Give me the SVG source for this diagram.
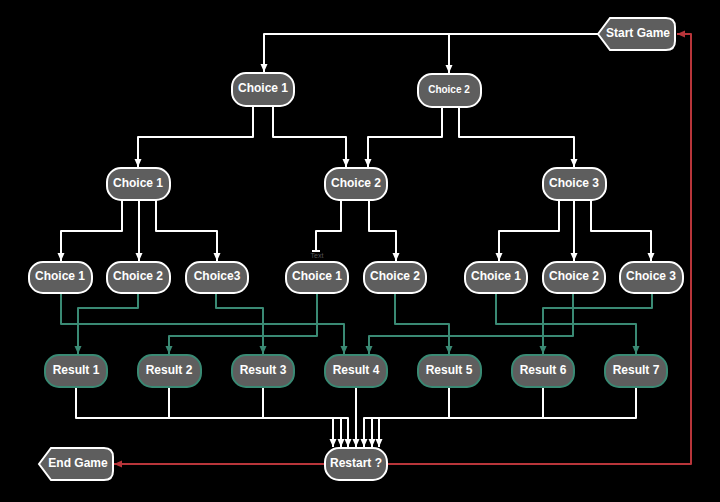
<svg xmlns="http://www.w3.org/2000/svg" width="720" height="502" viewBox="0 0 720 502">
<style>
.n{fill:#5e5e5e;stroke:#fff;stroke-width:2}
.r{fill:#5e5e5e;stroke:#3a8a74;stroke-width:2}
.t{fill:#fff;font-family:"Liberation Sans",Arial,sans-serif;font-weight:bold;font-size:12px;text-anchor:middle}
.w{fill:none;stroke:#fff;stroke-width:2;stroke-linejoin:round}
.g{fill:none;stroke:#3a8a74;stroke-width:2;stroke-linejoin:round}
.rd{fill:none;stroke:#b8353a;stroke-width:2;stroke-linejoin:round}
</style>
<defs>
<marker id="aw" markerUnits="userSpaceOnUse" markerWidth="10" markerHeight="10" refX="8" refY="5" orient="auto"><path d="M0,1.5 L8,5 L0,8.5 Z" fill="#fff"/></marker>
<marker id="ag" markerUnits="userSpaceOnUse" markerWidth="10" markerHeight="10" refX="8" refY="5" orient="auto"><path d="M0,1.5 L8,5 L0,8.5 Z" fill="#3a8a74"/></marker>
<marker id="ar" markerUnits="userSpaceOnUse" markerWidth="10" markerHeight="10" refX="8" refY="5" orient="auto"><path d="M0,1.5 L8,5 L0,8.5 Z" fill="#b8353a"/></marker>
</defs>
<rect width="720" height="502" fill="#000"/>
<g id="connectors">
<polyline class="w" points="598,34 264,34 264,72" marker-end="url(#aw)"/>
<polyline class="w" points="449,34 449,73" marker-end="url(#aw)"/>
<polyline class="w" points="253,106 253,137 138,137 138,167" marker-end="url(#aw)"/>
<polyline class="w" points="273,106 273,137 346,137 346,167" marker-end="url(#aw)"/>
<polyline class="w" points="442,107 442,137 368,137 368,167" marker-end="url(#aw)"/>
<polyline class="w" points="459,107 459,137 574,137 574,167" marker-end="url(#aw)"/>
<polyline class="w" points="122,200 122,231 61,231 61,261" marker-end="url(#aw)"/>
<polyline class="w" points="139,200 139,261" marker-end="url(#aw)"/>
<polyline class="w" points="156,200 156,231 217,231 217,261" marker-end="url(#aw)"/>
<polyline class="w" points="341,200 341,231 316,231 316,251"/>
<line x1="312" y1="251" x2="320" y2="251" stroke="#fff" stroke-width="2"/>
<text x="317" y="258" font-family="Liberation Sans,Arial,sans-serif" font-size="7" fill="#555" text-anchor="middle">Text</text>
<polyline class="w" points="369,200 369,231 396,231 396,261" marker-end="url(#aw)"/>
<polyline class="w" points="559,200 559,231 499,231 499,261" marker-end="url(#aw)"/>
<polyline class="w" points="574,200 574,261" marker-end="url(#aw)"/>
<polyline class="w" points="591,200 591,231 651,231 651,261" marker-end="url(#aw)"/>
<polyline class="g" points="61,293 61,324 344,324 344,354" marker-end="url(#ag)"/>
<polyline class="g" points="138,293 138,308 78,308 78,354" marker-end="url(#ag)"/>
<polyline class="g" points="216,293 216,308 263,308 263,354" marker-end="url(#ag)"/>
<polyline class="g" points="317,293 317,336 169,336 169,354" marker-end="url(#ag)"/>
<polyline class="g" points="395,293 395,324 449,324 449,354" marker-end="url(#ag)"/>
<polyline class="g" points="496,293 496,324 636,324 636,354" marker-end="url(#ag)"/>
<polyline class="g" points="573,293 573,336 369,336 369,354" marker-end="url(#ag)"/>
<polyline class="g" points="652,293 652,308 543,308 543,354" marker-end="url(#ag)"/>
<polyline class="w" points="76,387 76,418 333,418 333,447" marker-end="url(#aw)"/>
<polyline class="w" points="169,387 169,418 341,418 341,447" marker-end="url(#aw)"/>
<polyline class="w" points="263,387 263,418 348,418 348,447" marker-end="url(#aw)"/>
<polyline class="w" points="356,387 356,447" marker-end="url(#aw)"/>
<polyline class="w" points="449,387 449,418 364,418 364,447" marker-end="url(#aw)"/>
<polyline class="w" points="543,387 543,418 372,418 372,447" marker-end="url(#aw)"/>
<polyline class="w" points="636,387 636,418 379,418 379,447" marker-end="url(#aw)"/>
<polyline class="rd" points="387,464 691,464 691,34 677,34" marker-end="url(#ar)"/>
<polyline class="rd" points="325,464 114,464" marker-end="url(#ar)"/>
</g>
<g id="start"><path class="n" d="M598,34 L610,18 H666 Q675,18 675,27 V41 Q675,50 666,50 H610 Z"/><text class="t" x="638" y="37">Start Game</text></g>
<g id="c1"><rect class="n" x="232" y="73" width="62" height="33" rx="14"/><text class="t" x="263" y="92">Choice 1</text></g>
<g id="c2"><rect class="n" x="418" y="74" width="63" height="33" rx="14"/><text class="t" x="449" y="93" style="font-size:10px">Choice 2</text></g>
<g id="c11"><rect class="n" x="107" y="168" width="63" height="32" rx="14"/><text class="t" x="138" y="187">Choice 1</text></g>
<g id="c12"><rect class="n" x="325" y="168" width="62" height="32" rx="14"/><text class="t" x="356" y="187">Choice 2</text></g>
<g id="c13"><rect class="n" x="543" y="168" width="63" height="32" rx="14"/><text class="t" x="574" y="187">Choice 3</text></g>
<g id="c111"><rect class="n" x="29" y="262" width="63" height="31" rx="14"/><text class="t" x="60" y="280">Choice 1</text></g>
<g id="c112"><rect class="n" x="107" y="262" width="63" height="31" rx="14"/><text class="t" x="138" y="280">Choice 2</text></g>
<g id="c113"><rect class="n" x="186" y="262" width="62" height="31" rx="14"/><text class="t" x="217" y="280">Choice3</text></g>
<g id="c121"><rect class="n" x="286" y="262" width="62" height="31" rx="14"/><text class="t" x="317" y="280">Choice 1</text></g>
<g id="c122"><rect class="n" x="364" y="262" width="62" height="31" rx="14"/><text class="t" x="395" y="280">Choice 2</text></g>
<g id="c131"><rect class="n" x="465" y="262" width="62" height="31" rx="14"/><text class="t" x="496" y="280">Choice 1</text></g>
<g id="c132"><rect class="n" x="543" y="262" width="62" height="31" rx="14"/><text class="t" x="574" y="280">Choice 2</text></g>
<g id="c133"><rect class="n" x="620" y="262" width="63" height="31" rx="14"/><text class="t" x="651" y="280">Choice 3</text></g>
<g id="r1"><rect class="r" x="45" y="355" width="62" height="32" rx="14"/><text class="t" x="76" y="374">Result 1</text></g>
<g id="r2"><rect class="r" x="138" y="355" width="63" height="32" rx="14"/><text class="t" x="169" y="374">Result 2</text></g>
<g id="r3"><rect class="r" x="232" y="355" width="62" height="32" rx="14"/><text class="t" x="263" y="374">Result 3</text></g>
<g id="r4"><rect class="r" x="325" y="355" width="62" height="32" rx="14"/><text class="t" x="356" y="374">Result 4</text></g>
<g id="r5"><rect class="r" x="418" y="355" width="63" height="32" rx="14"/><text class="t" x="449" y="374">Result 5</text></g>
<g id="r6"><rect class="r" x="512" y="355" width="62" height="32" rx="14"/><text class="t" x="543" y="374">Result 6</text></g>
<g id="r7"><rect class="r" x="605" y="355" width="62" height="32" rx="14"/><text class="t" x="636" y="374">Result 7</text></g>
<g id="restart"><rect class="n" x="325" y="448" width="62" height="32" rx="14"/><text class="t" x="356" y="467">Restart ?</text></g>
<g id="end"><path class="n" d="M39,464 L51,448 H104 Q113,448 113,457 V471 Q113,480 104,480 H51 Z"/><text class="t" x="78" y="467">End Game</text></g>
</svg>
